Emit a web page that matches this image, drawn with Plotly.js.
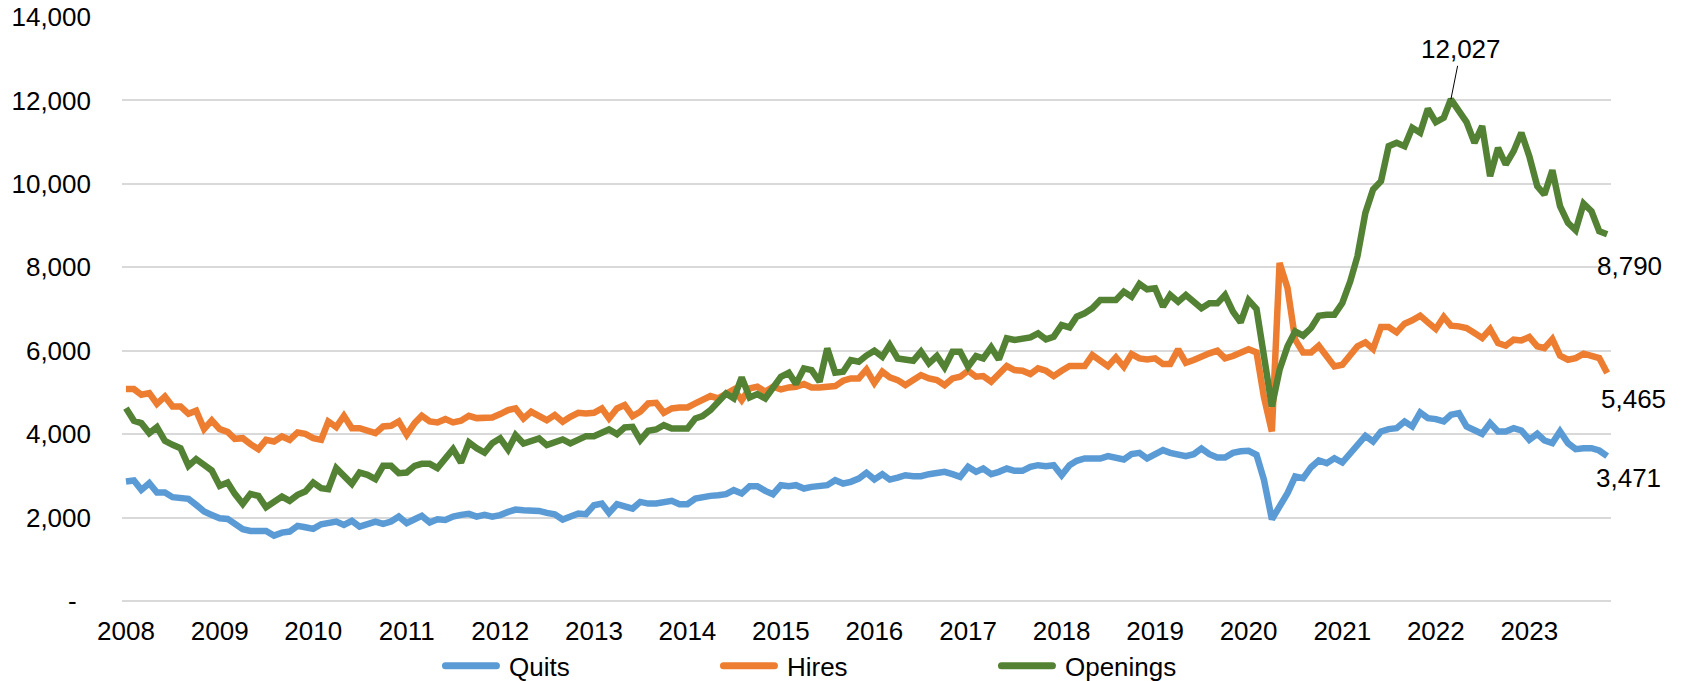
<!DOCTYPE html>
<html>
<head>
<meta charset="utf-8">
<script src="https://cdn.plot.ly/plotly-3.0.1.min.js"></script>
<style>html,body{margin:0;padding:0;background:#fff;}#chart{width:1688px;height:681px;}</style>
</head>
<body>
<div id="chart"></div>
<script>
// Monthly series, Jan 2008 .. Nov 2023 (thousands)
const startYear = 2008;
const monthCount = 191;
const seriesNames = ['Quits', 'Hires', 'Openings'];
const yearLabels = ['2008','2009','2010','2011','2012','2013','2014','2015','2016','2017','2018','2019','2020','2021','2022','2023'];
const yTickValues = [0, 2000, 4000, 6000, 8000, 10000, 12000, 14000];
const yTickLabels = ['-\u00a0\u00a0', '2,000', '4,000', '6,000', '8,000', '10,000', '12,000', '14,000'];

const quits = [
2864,2888,2664,2824,2600,2600,2488,2464,2448,2304,2144,2064,
1984,1968,1848,1720,1680,1680,1680,1568,1640,1664,1800,1768,
1728,1840,1880,1904,1824,1920,1784,1848,1904,1848,1904,2024,
1864,1960,2040,1880,1960,1944,2024,2064,2088,2024,2064,2024,
2060,2136,2192,2176,2176,2160,2112,2080,1952,2032,2096,2080,
2296,2336,2112,2320,2256,2216,2376,2336,2336,2376,2400,2320,
2320,2456,2496,2520,2536,2560,2656,2576,2752,2752,2640,2560,
2776,2752,2776,2696,2736,2768,2776,2896,2816,2856,2936,3072,
2916,3040,2912,2960,3016,2992,2992,3040,3072,3096,3040,2976,
3216,3096,3176,3040,3096,3176,3120,3120,3216,3256,3232,3256,
3016,3256,3360,3416,3416,3416,3472,3440,3392,3520,3552,3416,
3520,3616,3552,3520,3472,3520,3656,3520,3440,3440,3552,3590,
3600,3504,2904,1960,2248,2584,2984,2944,3208,3368,3304,3424,
3320,3544,3704,3960,3824,4064,4120,4144,4304,4184,4520,4384,
4360,4304,4464,4504,4184,4104,4008,4264,4064,4064,4144,4088,
3864,4008,3848,3784,4064,3784,3640,3664,3664,3608,3471
];

const hires = [
5080,5080,4944,4984,4728,4904,4664,4664,4488,4560,4120,4328,
4120,4056,3888,3904,3760,3640,3864,3824,3944,3864,4040,4008,
3904,3864,4304,4168,4440,4144,4144,4064,4024,4184,4200,4304,
3984,4264,4440,4304,4280,4360,4280,4320,4440,4384,4384,4400,
4480,4576,4616,4376,4536,4432,4336,4456,4296,4416,4512,4496,
4512,4616,4376,4616,4696,4432,4536,4736,4752,4512,4616,4640,
4640,4736,4816,4912,4856,4960,5072,4816,5096,5136,5016,5136,
5072,5120,5136,5200,5120,5120,5120,5152,5280,5336,5336,5550,
5224,5496,5360,5296,5176,5296,5416,5336,5296,5176,5336,5376,
5520,5376,5392,5256,5440,5632,5536,5520,5440,5576,5520,5392,
5520,5632,5632,5632,5896,5760,5632,5840,5616,5920,5816,5792,
5816,5680,5680,6032,5712,5776,5872,5936,6000,5816,5872,5940,
6036,5960,4888,4064,8104,7504,6264,5960,5960,6120,5864,5624,
5664,5880,6104,6200,6040,6568,6568,6440,6648,6728,6840,6680,
6520,6808,6600,6584,6544,6424,6304,6520,6184,6120,6264,6248,
6328,6104,6064,6280,5880,5784,5824,5928,5880,5824,5465
];

const openings = [
4624,4320,4264,4024,4168,3840,3744,3664,3240,3400,3264,3128,
2760,2840,2568,2328,2568,2520,2248,2360,2504,2400,2544,2624,
2840,2704,2680,3184,2984,2808,3080,3024,2920,3240,3240,3064,
3080,3240,3288,3288,3184,3424,3640,3320,3800,3664,3560,3784,
3900,3630,3976,3776,3816,3896,3736,3792,3872,3776,3872,3952,
3952,4056,4112,4000,4160,4176,3856,4080,4112,4216,4136,4136,
4136,4376,4432,4576,4776,4976,4856,5360,4880,4960,4856,5136,
5376,5472,5200,5576,5536,5256,6056,5472,5496,5776,5736,5884,
6000,5856,6136,5816,5776,5760,5976,5696,5872,5600,5976,5976,
5616,5872,5816,6080,5792,6296,6256,6272,6320,6416,6272,6336,
6616,6560,6816,6896,7016,7216,7216,7216,7416,7296,7600,7472,
7496,7056,7336,7176,7336,7176,7016,7136,7136,7336,6936,6680,
7212,7000,5864,4664,5544,6104,6464,6360,6544,6840,6864,6864,
7144,7664,8264,9304,9864,10064,10904,10984,10904,11344,11224,11800,
11480,11584,12027,11744,11480,10984,11384,10184,10864,10464,10784,11224,
10664,9944,9744,10328,9464,9064,8888,9528,9344,8864,8790
];

// category dates (first of each month)
const months = [];
for (let i = 0; i < monthCount; i++) {
  const y = startYear + Math.floor(i / 12);
  const m = (i % 12) + 1;
  months.push(y + '-' + String(m).padStart(2, '0') + '-01');
}
const yearTickVals = yearLabels.map(y => y + '-01-01');

const colors = ['#5B9BD5', '#ED7D31', '#548235'];
const allSeries = [quits, hires, openings];
const FONT = 'Liberation Sans, Arial, sans-serif';

const traces = allSeries.map((vals, k) => ({
  type: 'scatter', mode: 'lines', name: seriesNames[k],
  x: months, y: vals,
  line: {color: colors[k], width: 6.5},
  hoverinfo: 'skip'
}));

const fmt = v => v.toLocaleString('en-US');
const last = monthCount - 1;
const peakVal = Math.max(...openings);
const peakIdx = openings.indexOf(peakVal);

const annotations = [
  {x: months[peakIdx], y: peakVal, text: fmt(peakVal), showarrow: true, arrowhead: 0,
   arrowwidth: 1, arrowcolor: '#000', ax: 10, ay: -50, standoff: 0,
   font: {family: FONT, size: 26, color: '#000'}},
  {x: months[last], y: openings[last], text: fmt(openings[last]), showarrow: false,
   xshift: 22, yshift: -32, font: {family: FONT, size: 26, color: '#000'}},
  {x: months[last], y: hires[last], text: fmt(hires[last]), showarrow: false,
   xshift: 26, yshift: -26, font: {family: FONT, size: 26, color: '#000'}},
  {x: months[last], y: quits[last], text: fmt(quits[last]), showarrow: false,
   xshift: 21, yshift: -22, font: {family: FONT, size: 26, color: '#000'}}
];

const layout = {
  width: 1688, height: 681,
  margin: {l: 122, r: 77, t: 17, b: 80, pad: 0, autoexpand: false},
  paper_bgcolor: '#ffffff', plot_bgcolor: '#ffffff',
  font: {family: FONT, size: 26, color: '#000'},
  showlegend: true,
  legend: {orientation: 'h', x: 0.2142, xanchor: 'left', y: -0.111, yanchor: 'middle',
           font: {family: FONT, size: 26, color: '#000'}, entrywidth: 205, entrywidthmode: 'pixels',
           bgcolor: 'rgba(0,0,0,0)', borderwidth: 0, itemwidth: 58},
  xaxis: {type: 'date', range: ['2007-12-16 12:00', '2023-11-16'],
          tickmode: 'array', tickvals: yearTickVals, ticktext: yearLabels,
          showgrid: false, zeroline: false, showline: false, ticks: '',
          ticklabelstandoff: 12, tickfont: {family: FONT, size: 26, color: '#000'}, fixedrange: true},
  yaxis: {range: [0, 14000], tickmode: 'array', tickvals: yTickValues, ticktext: yTickLabels,
          showgrid: true, gridcolor: '#d9d9d9', gridwidth: 2,
          zeroline: true, zerolinecolor: '#d9d9d9', zerolinewidth: 2, showline: false, ticks: '',
          ticklabelstandoff: 30, tickfont: {family: FONT, size: 26, color: '#000'}, fixedrange: true},
  annotations: annotations,
  hovermode: false
};

Plotly.newPlot('chart', traces, layout, {staticPlot: true, displayModeBar: false}).then(() => {
  document.querySelectorAll('.legend .legendlines path').forEach(p => {
    p.setAttribute('d', 'M4.5,0h51');
    p.style.strokeWidth = '7px';
    p.style.strokeLinecap = 'round';
  });
});
</script>
</body>
</html>
